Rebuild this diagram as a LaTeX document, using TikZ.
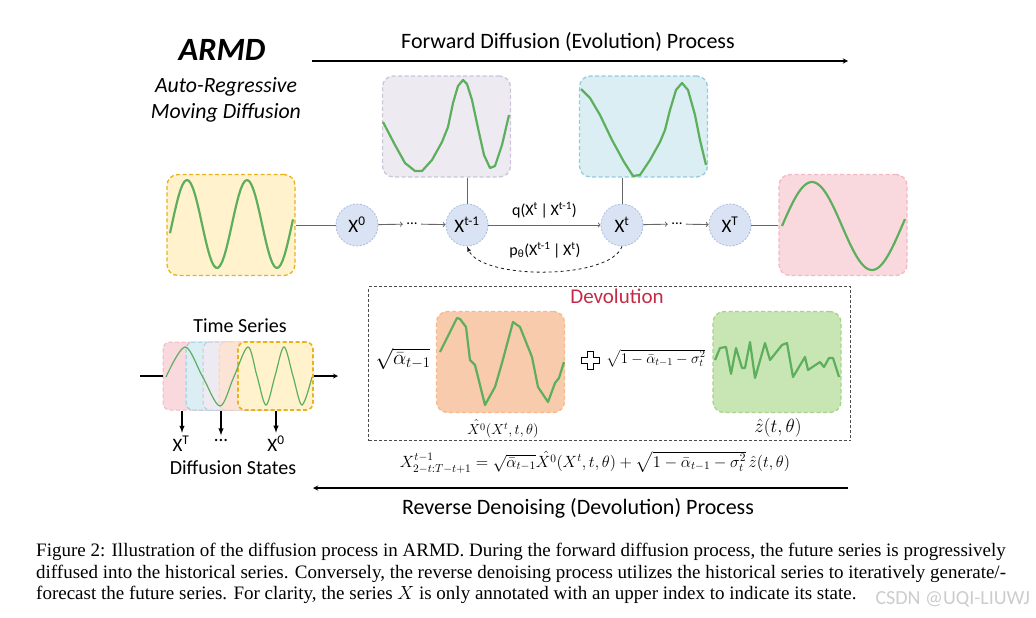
\RequirePackage{fix-cm}
\documentclass[tikz,border=0pt]{standalone}
\usepackage{amsmath}
\usepackage{fontspec}
\setmainfont{Liberation Serif}
\newfontfamily\carlito{Carlito}
\usetikzlibrary{positioning,calc}

\definecolor{yellowfill}{HTML}{FFF2CC}
\definecolor{yellowline}{HTML}{E8B21E}
\definecolor{purplefill}{HTML}{EDEAF2}
\definecolor{purpleline}{HTML}{CDC4DB}
\definecolor{bluefill}{HTML}{DAEEF3}
\definecolor{blueline}{HTML}{93CDDD}
\definecolor{pinkfill}{HTML}{F9D9DE}
\definecolor{pinkline}{HTML}{F2B8C3}
\definecolor{orangefill}{HTML}{F8CBAD}
\definecolor{orangeline}{HTML}{F6B98E}
\definecolor{peachfill}{HTML}{FBE3D6}
\definecolor{greenfill}{HTML}{C8E6B4}
\definecolor{greenline}{HTML}{A9D18E}
\definecolor{circlefill}{HTML}{DAE3F3}
\definecolor{circleline}{HTML}{A9BCE2}
\definecolor{wavegreen}{HTML}{5DAE5D}
\definecolor{devred}{HTML}{C42A45}

\begin{document}
\begin{tikzpicture}[x=1pt, y=-1pt]
    \tikzset{seriesbox/.style={draw, dash pattern=on 4pt off 2.5pt, line width=1.3pt, rounded corners=11pt,
        minimum width=128pt, minimum height=101pt, inner sep=0pt},
      smallbox/.style={seriesbox, rounded corners=7pt, line width=1pt, minimum width=75pt, minimum height=68pt},
      statenode/.style={circle, draw=circleline, fill=circlefill, dash pattern=on 2pt off 1.5pt, line width=0.8pt,
        minimum size=42pt, inner sep=0pt, font=\carlito\fontsize{19}{19}\selectfont},
      wave/.style={draw=wavegreen, line width=2.2pt, line join=round},
      sanstext/.style={font=\carlito\fontsize{22}{22}\selectfont},
      mathtext/.style={font=\fontsize{#1}{#1}\selectfont, inner sep=1pt},
      flow/.style={->, draw=gray!80!black, line width=0.9pt}
    }

    \useasboundingbox (0,0) rectangle (1036,618);

    \node [font=\carlito\bfseries\itshape\fontsize{32.5}{32.5}\selectfont] (T) at (222,50) {ARMD};
    \node [font=\carlito\itshape\fontsize{21.8}{26}\selectfont, align=center] (S) at (226,100) {Auto-Regressive\\Moving Diffusion};

    % forward process
    \coordinate (F0) at (312,61);
    \coordinate (F1) at (848,61);
    \draw[-stealth, line width=1.3pt] (F0) -- (F1);
    \node [sanstext] (FT) at (568,42) {Forward Diffusion (Evolution) Process};

    \node [seriesbox, draw=yellowline, fill=yellowfill] (Y) at (231,225) {};
    \node [seriesbox, draw=purpleline, fill=purplefill] (V) at (446.5,126.5) {};
    \node [seriesbox, draw=blueline, fill=bluefill] (B) at (643.5,126.5) {};
    \node [seriesbox, draw=pinkline, fill=pinkfill] (R) at (843,225) {};

    \draw[wave] plot[domain=170:293, samples=60] (\x, {224-44*sin(6*(\x-172))});
    \draw[wave] plot[domain=782:905, samples=60] (\x, {226-44*sin(3*(\x-782))});
    \draw[wave] plot coordinates {(383,122) (395,145) (405,163) (415,171) (422,171) (432,160) (442,142) (448,127)
      (453,103) (458,86) (463,80) (467,84) (472,100) (478,128) (484,155) (490,168) (495,166) (502,145) (509,115)};
    \draw[wave] plot coordinates {(581,89) (590,98) (600,115) (612,140) (624,162) (633,176) (640,175) (650,160)
      (660,142) (665,130) (670,110) (676,90) (682,83) (688,90) (695,115) (700,140) (706,165)};

    \node [statenode] (X0) at (357,225) {X\textsuperscript{0}};
    \node [statenode] (Xa) at (467,225) {X\textsuperscript{t-1}};
    \node [statenode] (Xb) at (622,225) {X\textsuperscript{t}};
    \node [statenode] (XT) at (730,225) {X\textsuperscript{T}};
    \node [font=\carlito\fontsize{15}{15}\selectfont] (D1) at (412,224) {...};
    \node [font=\carlito\fontsize{15}{15}\selectfont] (D2) at (677,224) {...};

    \draw[gray!80!black, line width=0.9pt] (Y) -- (X0);
    \draw[flow] (X0) -- (D1);
    \draw[flow] (D1) -- (Xa);
    \draw[flow] (Xa) -- (Xb) node[midway, above=3pt, font=\carlito\fontsize{16}{16}\selectfont] {q(X\textsuperscript{t}\,|\,X\textsuperscript{t-1})};
    \draw[flow] (Xb) -- (D2);
    \draw[flow] (D2) -- (XT);
    \draw[gray!80!black, line width=0.9pt] (XT) -- (R);
    \draw[gray!80!black, line width=0.9pt] (V.south -| Xa) -- (Xa);
    \draw[gray!80!black, line width=0.9pt] (B.south -| Xb) -- (Xb);
    \draw[-latex, dashed, gray!20!black, line width=0.8pt] (Xb.south) .. controls (610,280) and (482,280) .. (Xa.south);
    \node [font=\carlito\fontsize{16}{16}\selectfont] (P) at (545,250) {p\textsubscript{θ}(X\textsuperscript{t-1}\,|\,X\textsuperscript{t})};

    % devolution
    \node [draw=gray!60!black, dash pattern=on 3pt off 2pt, line width=1pt, minimum width=482pt, minimum height=154pt, inner sep=0pt] (DV) at (609.5,363.5) {};
    \node [font=\carlito\fontsize{21}{21}\selectfont, text=devred] (DT) at (617,296) {Devolution};
    \node [mathtext=21] (A1) at (403,359) {$\sqrt{\bar\alpha_{t-1}}$};
    \node [seriesbox, draw=orangeline, fill=orangefill] (O) at (500.5,362) {};
    \draw[wave] plot coordinates {(440,352) (457,318) (460,319) (466,327) (470,360) (475,365) (485,405) (495,387)
      (502,363) (513,322) (520,327) (532,357) (538,387) (548,402) (555,383) (559,378) (564,362)};
    \node [mathtext=14.5] (OL) at (503,429) {$\hat{X^0}(X^t,t,\theta)$};
    \draw[line width=1pt, shift={(590,360)}] (-3,-9) -- (3,-9) -- (3,-3) -- (9,-3) -- (9,3) -- (3,3) -- (3,9)
      -- (-3,9) -- (-3,3) -- (-9,3) -- (-9,-3) -- (-3,-3) -- cycle;
    \node [mathtext=14.8] (A2) at (656,358) {$\sqrt{1-\bar\alpha_{t-1}-\sigma_t^2}$};
    \node [seriesbox, draw=greenline, fill=greenfill] (G) at (777,362) {};
    \draw[wave] plot coordinates {(715,360) (720,348) (726,347) (731,374) (736,348) (742,368) (745,368) (750,342)
      (755,378) (765,343) (770,360) (782,345) (787,343) (793,377) (805,357) (808,370) (820,362) (824,367)
      (829,358) (833,358) (839,377)};
    \node [mathtext=19] (GL) at (778,428) {$\hat z(t,\theta)$};

    \node [mathtext=16.3] (EQ) at (595,462) {$X^{t-1}_{2-t:T-t+1}=\sqrt{\bar\alpha_{t-1}}\hat{X^0}(X^t,t,\theta)+\sqrt{1-\bar\alpha_{t-1}-\sigma_t^2}\,\hat z(t,\theta)$};

    % reverse process
    \coordinate (R0) at (848,488);
    \coordinate (R1) at (313,488);
    \draw[-stealth, line width=1.3pt] (R0) -- (R1);
    \node [sanstext] (RT) at (578,508) {Reverse Denoising (Devolution) Process};

    % time series strip
    \node [font=\carlito\fontsize{20}{20}\selectfont] (TS) at (240,326) {Time Series};
    \node [smallbox, draw=pinkline, fill=pinkfill] (S1) at (200.5,376) {};
    \node [smallbox, draw=blueline, fill=bluefill] (S2) at (223.5,376) {};
    \node [smallbox, draw=purpleline, fill=purplefill] (S3) at (240.5,376) {};
    \node [smallbox, draw=orangeline!60, fill=peachfill] (S4) at (256.5,376) {};
    \node [smallbox, draw=yellowline, fill=yellowfill, line width=1.6pt] (S5) at (275.5,376) {};
    \draw[draw=wavegreen, line width=1.2pt] plot[smooth, tension=0.55] coordinates {(166,377) (185,347) (202.5,376.5)
      (220,406) (234,376.5) (248,347) (257,376) (266,405) (275,376) (284,347) (293,376) (302,405) (312,377)};
    \coordinate (L0) at (140,376);
    \coordinate (L1) at (338,376);
    \draw[line width=1.2pt] (L0) -- (S1.west);
    \draw[-stealth, line width=1.2pt] (S5.east) -- (L1);

    \node [font=\carlito\fontsize{19}{19}\selectfont] (XTl) at (181,444) {X\textsuperscript{T}};
    \node [font=\carlito\fontsize{19}{19}\selectfont] (Dl) at (221,440) {...};
    \node [font=\carlito\fontsize{19}{19}\selectfont] (X0l) at (276,444) {X\textsuperscript{0}};
    \draw[-latex, line width=1.4pt] (S1.south -| 182,0) -- (XTl.north -| 182,0);
    \draw[-latex, line width=1.4pt] (S2.south -| Dl) -- (Dl);
    \draw[-latex, line width=1.4pt] (S5.south -| X0l) -- (X0l);
    \node [font=\carlito\fontsize{20}{20}\selectfont] (DS) at (233,468) {Diffusion States};

    % caption
    \node [anchor=north west, align=left, inner sep=0pt, font=\fontsize{19}{21.5}\selectfont] (C) at (36,543)
      {Figure 2: Illustration of the diffusion process in ARMD. During the forward diffusion process, the future series is progressively\\
       diffused into the historical series. Conversely, the reverse denoising process utilizes the historical series to iteratively generate/-\\
       forecast the future series. For clarity, the series $X$ is only annotated with an upper index to indicate its state.};
    \node [anchor=west, font=\carlito\fontsize{20}{20}\selectfont, text=gray!40] (W) at (872,599) {CSDN @UQI-LIUWJ};
\end{tikzpicture}
\end{document}
